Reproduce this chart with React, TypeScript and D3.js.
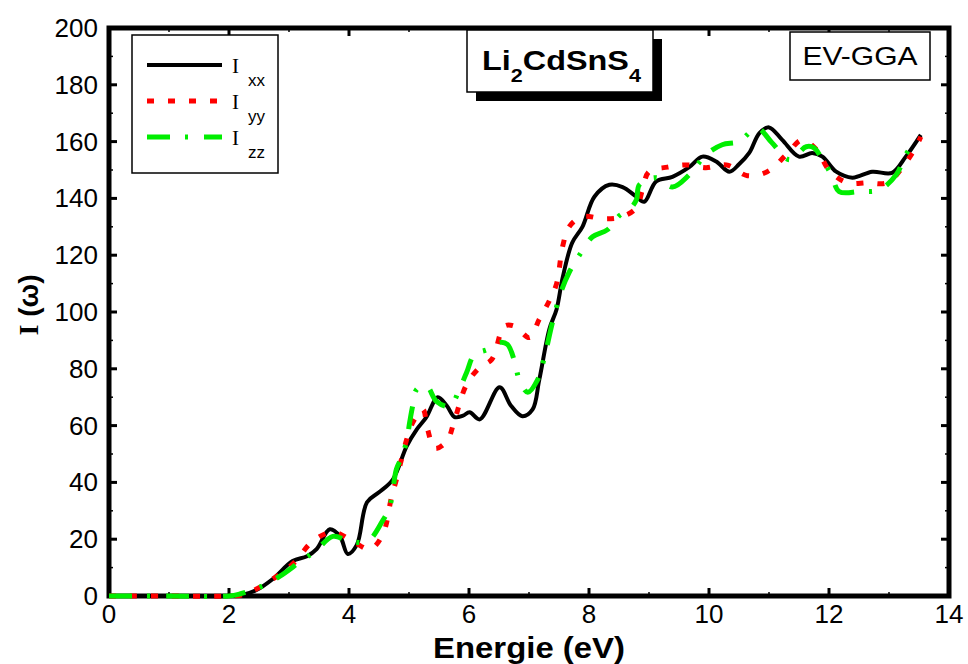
import React from 'react';
import * as d3 from 'd3';

// Ixx (black, solid)
const energyXX = [0, 1, 2, 2.2, 2.45, 2.73, 3.06, 3.3, 3.46, 3.68, 3.85, 3.98, 4.13, 4.3, 4.5, 4.73, 4.96, 5.13, 5.29, 5.48, 5.63, 5.76, 5.9, 6.01, 6.18, 6.51, 6.7, 6.89, 7.06, 7.17, 7.34, 7.46, 7.56, 7.72, 7.89, 8.09, 8.34, 8.56, 8.79, 8.92, 9.12, 9.39, 9.67, 9.89, 10.12, 10.34, 10.5, 10.67, 10.84, 11.0, 11.22, 11.5, 11.72, 11.89, 12.12, 12.39, 12.72, 13.05, 13.28, 13.53];
const intensityXX = [0, 0, 0, 0.3, 2, 6, 12.3, 14, 16.5, 23.5, 21, 14.8, 18, 33, 36.5, 41, 52.7, 58.7, 63, 70, 67, 63, 63.5, 64.7, 62.2, 73.5, 67, 63.3, 65.7, 76, 94, 101, 112, 124.4, 130, 140.6, 144.8, 144, 140.6, 138.8, 146, 147.6, 151, 154.7, 153, 149.4, 152, 156, 163, 165, 160.6, 154.7, 156, 154.7, 149.4, 147.3, 149.4, 149, 154.7, 162.4];

// Iyy (red, dotted)
const energyYY = [0, 1, 2, 2.25, 2.46, 2.8, 3.1, 3.38, 3.73, 4.06, 4.35, 4.56, 4.71, 4.79, 4.96, 5.06, 5.23, 5.31, 5.43, 5.63, 5.76, 5.96, 6.18, 6.38, 6.59, 6.76, 7.01, 7.17, 7.34, 7.46, 7.56, 7.67, 7.89, 8.26, 8.56, 8.79, 8.89, 9.0, 9.31, 9.62, 9.95, 10.29, 10.64, 10.97, 11.29, 11.55, 11.8, 12.0, 12.3, 12.64, 12.97, 13.22, 13.45, 13.53];
const intensityYY = [0, 0, 0, 0.5, 2.5, 7, 12, 19, 22.5, 19.3, 16.5, 21.5, 35, 41, 55, 61, 65.7, 58.7, 52, 54.5, 62, 74.5, 80.5, 83.3, 95, 95, 91, 97.4, 104, 110, 123, 130, 133.6, 132.8, 133.6, 136.7, 143, 149.4, 151, 151.8, 150.8, 151.8, 148, 149.4, 155.4, 160.6, 157, 150, 145.5, 145.5, 145.5, 150.8, 158.2, 161.7];

// Izz (green, dash-dot)
const energyZZ = [0, 1, 2, 2.18, 2.5, 2.85, 3.18, 3.45, 3.73, 4.01, 4.31, 4.56, 4.68, 4.79, 4.88, 4.96, 5.01, 5.06, 5.13, 5.29, 5.46, 5.68, 5.84, 5.96, 6.09, 6.31, 6.51, 6.64, 6.76, 6.84, 6.98, 7.14, 7.26, 7.39, 7.54, 7.67, 7.87, 8.06, 8.31, 8.51, 8.67, 8.79, 8.84, 9.12, 9.39, 9.67, 9.95, 10.22, 10.5, 10.8, 11.05, 11.34, 11.62, 11.75, 11.89, 12.04, 12.17, 12.5, 12.84, 13.12, 13.28, 13.45];
const intensityZZ = [0, 0, 0, 0.7, 3, 7, 12, 16, 21, 19.3, 19.3, 26.5, 31.6, 44.6, 49, 54.5, 61, 66.8, 72.8, 74, 68.5, 66.8, 72.8, 78.7, 85, 86.8, 89.3, 88.6, 82.6, 76, 71.7, 76, 84.4, 96.3, 107.5, 114, 121, 126.5, 129, 134, 136, 139.5, 144.8, 147.3, 144, 148.3, 155.4, 158.9, 160, 164.8, 159.6, 153.6, 158.2, 157.8, 153.6, 148.3, 142.4, 142.4, 143, 148.3, 155.4, 160.6];

const xTicks = [0, 2, 4, 6, 8, 10, 12, 14];
const yTicks = [0, 20, 40, 60, 80, 100, 120, 140, 160, 180, 200];
const seriesLabels = ['xx', 'yy', 'zz'];

const FONT = '"Liberation Sans", Arial, sans-serif';
const SERIF = '"Liberation Serif", serif';

export default function App() {
    const x = d3.scaleLinear().domain([0, 14]).range([109, 949]);
    const y = d3.scaleLinear().domain([0, 200]).range([596, 28]);

    const line = d3.line<[number, number]>()
        .x(d => x(d[0]))
        .y(d => y(d[1]))
        .curve(d3.curveCatmullRom.alpha(0.5));

    const series = [
        {e: energyXX, v: intensityXX, color: '#000000', dash: null, width: 4},
        {e: energyYY, v: intensityYY, color: '#ff0000', dash: '7,14', width: 5},
        {e: energyZZ, v: intensityZZ, color: '#00ee00', dash: '23,15,3,16', width: 5},
    ];

    // minor ticks every 1 eV and every 10 units
    const xMinor = d3.range(1, 14, 2);
    const yMinor = d3.range(10, 200, 20);

    return (
        <svg width={968} height={664} style={{position: 'absolute', left: 0, top: 0, background: '#fff'}}>
            {/* frame */}
            <rect x={109} y={28} width={840} height={568} fill="none" stroke="#000" strokeWidth={5}/>

            {/* ticks, inward on all four sides */}
            {xTicks.map(t => (
                <g key={'xt' + t}>
                    <line x1={x(t)} x2={x(t)} y1={596} y2={588} stroke="#000" strokeWidth={3}/>
                    <line x1={x(t)} x2={x(t)} y1={28} y2={36} stroke="#000" strokeWidth={3}/>
                </g>
            ))}
            {xMinor.map(t => (
                <g key={'xm' + t}>
                    <line x1={x(t)} x2={x(t)} y1={596} y2={592} stroke="#000" strokeWidth={1.5}/>
                    <line x1={x(t)} x2={x(t)} y1={28} y2={32} stroke="#000" strokeWidth={1.5}/>
                </g>
            ))}
            {yTicks.map(t => (
                <g key={'yt' + t}>
                    <line x1={109} x2={117} y1={y(t)} y2={y(t)} stroke="#000" strokeWidth={3}/>
                    <line x1={949} x2={941} y1={y(t)} y2={y(t)} stroke="#000" strokeWidth={3}/>
                </g>
            ))}
            {yMinor.map(t => (
                <g key={'ym' + t}>
                    <line x1={109} x2={113} y1={y(t)} y2={y(t)} stroke="#000" strokeWidth={1.5}/>
                    <line x1={949} x2={945} y1={y(t)} y2={y(t)} stroke="#000" strokeWidth={1.5}/>
                </g>
            ))}

            {/* tick labels */}
            {xTicks.map(t => (
                <text key={'xl' + t} x={x(t)} y={623} textAnchor="middle" fontFamily={FONT} fontSize={26}>{t}</text>
            ))}
            {yTicks.map(t => (
                <text key={'yl' + t} x={98} y={y(t) + 9} textAnchor="end" fontFamily={FONT} fontSize={26}>{t}</text>
            ))}

            {/* axis titles */}
            <text x={433} y={658} textLength={192} lengthAdjust="spacingAndGlyphs"
                  fontFamily={FONT} fontSize={30} fontWeight="bold">Energie (eV)</text>
            <text transform="translate(38,305) rotate(-90)" textAnchor="middle" fontFamily={FONT} fontSize={28} fontWeight="bold">
                <tspan fontFamily={SERIF}>I</tspan> (ω)
            </text>

            {/* curves */}
            {series.map((s, i) => (
                <path key={'s' + i}
                      d={line(s.e.map((e, j) => [e, s.v[j]] as [number, number])) || ''}
                      fill="none" stroke={s.color} strokeWidth={s.width}
                      strokeDasharray={s.dash || undefined}
                      strokeLinejoin="round"/>
            ))}

            {/* legend */}
            <rect x={132} y={35} width={146} height={138} fill="#fff" stroke="#000" strokeWidth={1.5}/>
            {series.map((s, i) => (
                <g key={'lg' + i}>
                    <line x1={147} x2={222} y1={65 + i * 36} y2={65 + i * 36} stroke={s.color}
                          strokeWidth={s.width} strokeDasharray={s.dash || undefined}/>
                    <text x={232} y={73 + i * 36} fontFamily={SERIF} fontSize={21}>I</text>
                    <text x={248} y={86 + i * 36} fontFamily={FONT} fontSize={17}>{seriesLabels[i]}</text>
                </g>
            ))}

            {/* title box with drop shadow */}
            <rect x={476} y={39} width={186} height={62} fill="#000"/>
            <rect x={467} y={30} width={186} height={62} fill="#fff" stroke="#000" strokeWidth={1.5}/>
            <text transform="translate(482,70) scale(1.2,1)" fontFamily={FONT} fontSize={27} fontWeight="bold">
                Li<tspan fontSize={18} dy={12}>2</tspan><tspan dy={-12}>CdSnS</tspan><tspan fontSize={18} dy={12}>4</tspan>
            </text>

            {/* method box */}
            <rect x={790} y={32} width={140} height={48} fill="#fff" stroke="#000" strokeWidth={1.5}/>
            <text transform="translate(860,65) scale(1.2,1)" textAnchor="middle" fontFamily={FONT} fontSize={25}>EV-GGA</text>
        </svg>
    );
}
